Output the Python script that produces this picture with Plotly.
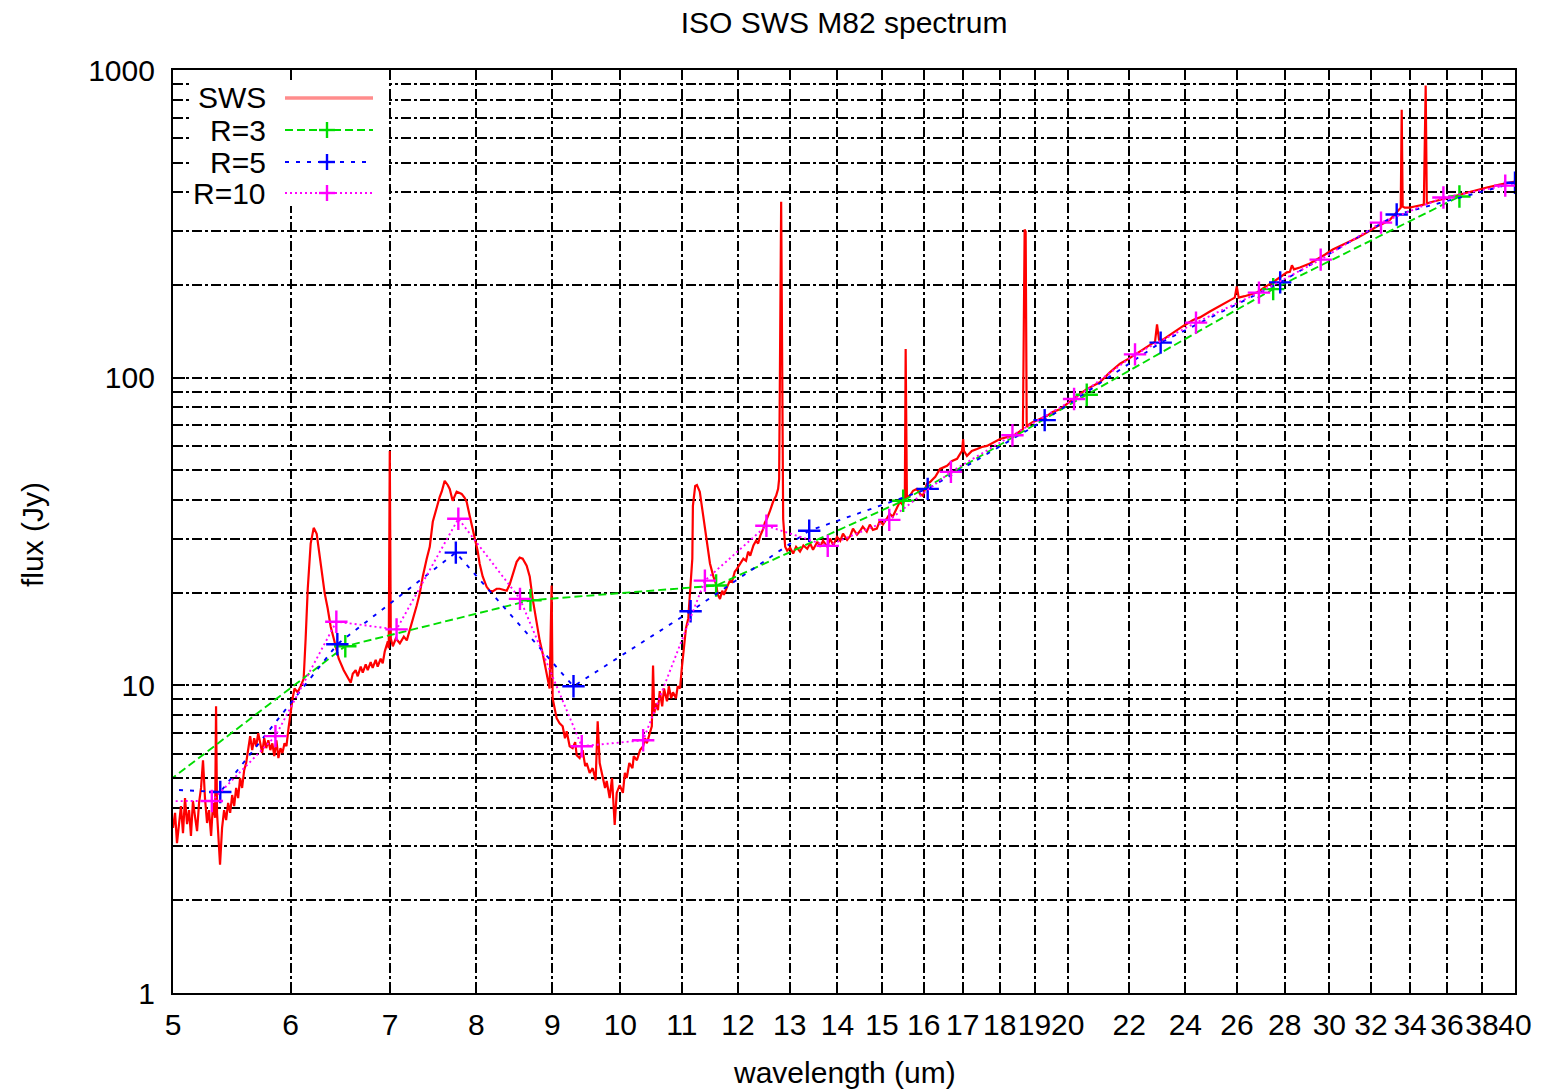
import math
import plotly.graph_objects as go

# ISO SWS spectrum of M82: wavelength (um) and flux density (Jy)
sws_wave = [
    5.000, 5.016, 5.031, 5.047, 5.062, 5.078, 5.094, 5.110, 5.126, 5.141,
    5.157, 5.173, 5.190, 5.206, 5.222, 5.238, 5.254, 5.271, 5.287, 5.304,
    5.320, 5.337, 5.345, 5.353, 5.370, 5.378, 5.395, 5.412, 5.429, 5.446,
    5.463, 5.480, 5.497, 5.514, 5.531, 5.548, 5.565, 5.583, 5.600, 5.618,
    5.635, 5.653, 5.670, 5.688, 5.706, 5.724, 5.741, 5.759, 5.777, 5.796,
    5.814, 5.832, 5.850, 5.869, 5.887, 5.906, 5.924, 5.943, 5.961, 5.980,
    5.999, 6.018, 6.036, 6.065, 6.094, 6.122, 6.141, 6.161, 6.189, 6.218,
    6.247, 6.286, 6.325, 6.354, 6.384, 6.414, 6.464, 6.514, 6.565, 6.585,
    6.606, 6.636, 6.657, 6.688, 6.709, 6.740, 6.761, 6.792, 6.813, 6.845,
    6.866, 6.898, 6.920, 6.942, 6.975, 6.985, 6.996, 7.007, 7.029, 7.062,
    7.106, 7.150, 7.183, 7.216, 7.250, 7.295, 7.329, 7.363, 7.408, 7.443,
    7.478, 7.524, 7.559, 7.582, 7.617, 7.653, 7.677, 7.712, 7.739, 7.760,
    7.796, 7.820, 7.857, 7.881, 7.918, 7.954, 7.979, 8.016, 8.041, 8.079,
    8.129, 8.167, 8.205, 8.256, 8.295, 8.334, 8.386, 8.425, 8.477, 8.516,
    8.556, 8.596, 8.649, 8.690, 8.730, 8.784, 8.825, 8.866, 8.907, 8.935,
    8.962, 8.990, 9.004, 9.032, 9.060, 9.102, 9.145, 9.178, 9.202, 9.245,
    9.288, 9.324, 9.346, 9.389, 9.433, 9.470, 9.492, 9.536, 9.580, 9.625,
    9.655, 9.685, 9.730, 9.766, 9.791, 9.836, 9.872, 9.913, 9.944, 9.990,
    10.04, 10.07, 10.10, 10.14, 10.19, 10.21, 10.26, 10.31, 10.36, 10.39,
    10.42, 10.47, 10.50, 10.52, 10.54, 10.57, 10.60, 10.63, 10.67, 10.70,
    10.75, 10.78, 10.82, 10.85, 10.90, 10.93, 10.97, 11.00, 11.04, 11.07,
    11.11, 11.14, 11.18, 11.19, 11.23, 11.26, 11.31, 11.37, 11.44, 11.49,
    11.55, 11.60, 11.63, 11.67, 11.71, 11.74, 11.80, 11.85, 11.89, 11.94,
    11.98, 12.04, 12.10, 12.15, 12.19, 12.23, 12.29, 12.34, 12.38, 12.42,
    12.48, 12.51, 12.55, 12.61, 12.67, 12.73, 12.77, 12.79, 12.83, 12.87,
    12.91, 12.95, 13.01, 13.07, 13.13, 13.21, 13.28, 13.36, 13.42, 13.48,
    13.57, 13.63, 13.69, 13.78, 13.84, 13.91, 13.99, 14.06, 14.12, 14.21,
    14.28, 14.34, 14.43, 14.50, 14.56, 14.65, 14.72, 14.79, 14.88, 14.95,
    15.02, 15.11, 15.18, 15.25, 15.30, 15.37, 15.42, 15.49, 15.54, 15.56,
    15.59, 15.66, 15.74, 15.83, 15.91, 15.98, 16.08, 16.16, 16.29, 16.41,
    16.51, 16.59, 16.72, 16.85, 16.93, 16.98, 17.01, 17.03, 17.11, 17.24,
    17.38, 17.51, 17.65, 17.81, 18.01, 18.20, 18.37, 18.51, 18.66, 18.71,
    18.74, 18.77, 18.85, 18.94, 19.15, 19.36, 19.54, 19.76, 19.97, 20.16,
    20.38, 20.60, 20.79, 21.02, 21.35, 21.69, 22.03, 22.37, 22.72, 22.90,
    22.97, 23.04, 23.18, 23.54, 23.91, 24.29, 24.55, 24.93, 25.21, 25.52,
    25.83, 25.91, 25.99, 26.07, 26.31, 26.81, 27.14, 27.48, 27.79, 28.09,
    28.22, 28.31, 28.40, 28.66, 29.11, 29.43, 29.79, 30.16, 30.58, 30.96,
    31.34, 31.79, 32.29, 32.69, 32.95, 33.20, 33.41, 33.51, 33.56, 33.61,
    33.72, 33.98, 34.24, 34.51, 34.73, 34.83, 34.89, 35.05, 35.60, 35.99,
    36.55, 37.12, 37.70, 38.29, 39.07, 40.00,
]
sws_flux = [
    3.44, 3.85, 3.07, 3.65, 4.05, 3.31, 4.30, 3.54, 3.93, 3.24,
    4.21, 3.76, 3.36, 4.15, 4.64, 5.71, 4.30, 3.57, 3.93, 3.24,
    4.15, 3.71, 8.55, 3.85, 2.96, 2.61, 3.44, 3.93, 3.65, 4.15,
    3.85, 4.40, 4.05, 4.64, 4.30, 5.00, 4.64, 5.30, 5.59, 6.34,
    6.83, 6.16, 6.73, 6.34, 6.99, 6.48, 6.02, 6.73, 6.25, 6.63,
    6.16, 6.48, 5.89, 6.63, 5.80, 6.25, 6.02, 6.48, 6.34, 7.25,
    8.30, 9.08, 9.77, 9.49, 9.93, 10.5, 14.2, 20.6, 28.9, 32.5,
    31.1, 24.5, 19.9, 17.8, 15.5, 14.2, 12.2, 11.2, 10.5, 10.2,
    10.9, 11.2, 10.7, 11.5, 11.0, 11.7, 11.2, 11.9, 11.4, 12.1,
    11.5, 12.2, 11.8, 12.9, 13.9, 13.2, 57.8, 14.2, 13.4, 14.2,
    13.7, 14.4, 14.0, 15.1, 16.2, 18.2, 19.9, 22.6, 25.8, 28.2,
    34.0, 38.3, 41.0, 42.6, 46.2, 44.8, 43.5, 39.8, 41.6, 42.6,
    42.2, 41.9, 40.7, 39.5, 35.6, 32.3, 30.0, 27.4, 24.9, 22.6,
    20.9, 20.3, 20.2, 20.6, 20.6, 20.5, 20.3, 21.3, 23.6, 25.2,
    26.0, 25.8, 24.5, 22.6, 19.1, 15.7, 14.0, 12.7, 11.5, 10.5,
    9.77, 21.1, 9.08, 8.30, 7.82, 7.53, 7.36, 6.73, 7.09, 6.34,
    6.25, 6.54, 5.93, 5.80, 6.16, 5.46, 5.59, 5.19, 5.38, 4.92,
    7.64, 5.59, 5.07, 4.64, 4.89, 4.30, 5.00, 3.52, 4.47, 4.74,
    4.47, 5.19, 5.00, 5.59, 5.38, 5.89, 5.71, 6.16, 6.34, 6.73,
    6.48, 7.09, 7.36, 11.6, 8.11, 8.74, 8.30, 9.57, 8.55, 9.77,
    8.87, 9.93, 9.08, 9.49, 9.08, 9.93, 9.77, 11.4, 13.7, 15.3,
    16.5, 20.6, 25.8, 38.3, 44.5, 44.8, 42.6, 35.6, 28.9, 24.9,
    22.6, 21.3, 19.7, 19.1, 20.3, 19.7, 20.9, 21.9, 21.7, 23.4,
    23.9, 24.9, 25.8, 25.4, 27.2, 26.4, 28.5, 29.5, 28.9, 30.6,
    32.3, 33.8, 34.8, 36.9, 39.5, 41.3, 43.5, 46.9, 373.0, 34.8,
    28.2, 27.4, 28.0, 26.8, 28.2, 27.2, 28.5, 27.8, 28.9, 27.6,
    29.3, 28.2, 29.5, 28.2, 30.0, 28.5, 30.4, 29.5, 31.1, 29.7,
    30.6, 32.3, 30.9, 31.8, 32.8, 31.6, 33.3, 32.0, 32.3, 34.3,
    33.3, 34.8, 36.1, 35.3, 36.6, 38.0, 39.5, 38.6, 40.4, 124.0,
    41.0, 41.3, 42.9, 43.5, 41.9, 41.3, 45.2, 45.8, 47.6, 50.5,
    51.3, 51.7, 53.6, 54.5, 56.5, 57.8, 63.2, 57.8, 55.7, 57.8,
    58.6, 59.5, 60.0, 61.3, 63.2, 64.1, 64.6, 66.1, 68.1, 303.0,
    298.0, 69.1, 70.7, 71.7, 73.4, 75.0, 77.3, 79.0, 82.1, 85.2,
    88.4, 91.8, 93.8, 96.6, 104.0, 111.0, 116.0, 122.0, 128.0, 131.0,
    149.0, 133.0, 133.0, 140.0, 147.0, 154.0, 157.0, 164.0, 169.0, 174.0,
    180.0, 182.0, 198.0, 182.0, 184.0, 189.0, 197.0, 204.0, 212.0, 220.0,
    221.0, 232.0, 225.0, 228.0, 235.0, 242.0, 251.0, 261.0, 269.0, 277.0,
    285.0, 296.0, 310.0, 319.0, 326.0, 339.0, 352.0, 357.0, 742.0, 360.0,
    357.0, 357.0, 360.0, 362.0, 365.0, 890.0, 368.0, 371.0, 379.0, 385.0,
    391.0, 399.0, 408.0, 415.0, 424.0, 434.0,
]

# Spectrum rebinned at resolving power R=3
r3_wave = [4.90, 6.53, 8.70, 11.6, 15.5, 20.6, 27.5, 36.7]
r3_flux = [4.65, 13.4, 18.9, 21.1, 39.8, 88.0, 194.0, 388.0]

# Spectrum rebinned at resolving power R=5
r5_wave = [4.48, 5.38, 6.45, 7.75, 9.30, 11.15, 13.4, 16.1, 19.3, 23.1, 27.8, 33.3, 40.0]
r5_flux = [4.70, 4.50, 13.6, 27.0, 9.93, 17.4, 31.8, 43.5, 72.8, 130.0, 204.0, 339.0, 430.0]

# Spectrum rebinned at resolving power R=10
r10_wave = [4.83, 5.31, 5.86, 6.44, 7.07, 7.78, 8.56, 9.42, 10.36, 11.4, 12.54, 13.79,
            15.17, 16.69, 18.36, 20.2, 22.2, 24.4, 26.9, 29.6, 32.5, 35.8, 39.4]
r10_flux = [4.20, 4.21, 6.84, 16.1, 15.2, 34.8, 19.1, 6.34, 6.63, 21.9, 33.0, 28.4,
            34.5, 49.4, 65.0, 85.2, 119.0, 151.0, 189.0, 242.0, 319.0, 385.0, 421.0]

x_ticks = [5, 6, 7, 8, 9, 10, 11, 12, 13, 14, 15, 16, 17, 18, 19, 20,
           22, 24, 26, 28, 30, 32, 34, 36, 38, 40]
y_major = [1, 10, 100, 1000]
y_minor = [m * 10 ** k for k in range(3) for m in range(2, 10)]

series_labels = ["SWS", "R=3", "R=5", "R=10"]

FONT = "Liberation Sans, Arial, Helvetica, sans-serif"
GRID_DASH = "10px,3px,3px,3px"
GRID_W = 1.9
RED = "#ff0000"
GREEN = "#00dd00"
BLUE = "#0000ff"
MAGENTA = "#ff00ff"

W, H = 1546, 1089
ML, MR, MT, MB = 173, 31, 70, 96
PW, PH = W - ML - MR, H - MT - MB


def px(x):
    return (x - ML) / PW


def py(y):
    return (H - MB - y) / PH


fig = go.Figure()

fig.add_trace(go.Scatter(
    x=sws_wave, y=sws_flux, mode="lines", name=series_labels[0],
    line=dict(color=RED, width=2.2), showlegend=False,
))
fig.add_trace(go.Scatter(
    x=r3_wave, y=r3_flux, mode="lines+markers", name=series_labels[1],
    line=dict(color=GREEN, width=1.9, dash="8px,4px"),
    marker=dict(symbol="cross-thin", size=16, line=dict(color=GREEN, width=2.4)),
    showlegend=False,
))
fig.add_trace(go.Scatter(
    x=r5_wave, y=r5_flux, mode="lines+markers", name=series_labels[2],
    line=dict(color=BLUE, width=1.9, dash="4px,7px"),
    marker=dict(symbol="cross-thin", size=16, line=dict(color=BLUE, width=2.4)),
    showlegend=False,
))
fig.add_trace(go.Scatter(
    x=r10_wave, y=r10_flux, mode="lines+markers", name=series_labels[3],
    line=dict(color=MAGENTA, width=1.9, dash="2px,3px"),
    marker=dict(symbol="cross-thin", size=16, line=dict(color=MAGENTA, width=2.4)),
    showlegend=False,
))

axis_common = dict(
    type="log",
    ticks="inside",
    tickcolor="black",
    tickwidth=1.8,
    showline=True,
    linecolor="black",
    linewidth=2.2,
    mirror="allticks",
    showgrid=True,
    gridcolor="black",
    gridwidth=GRID_W,
    griddash=GRID_DASH,
    zeroline=False,
    tickangle=0,
    tickfont=dict(family=FONT, size=30, color="black"),
)

fig.update_xaxes(
    range=[math.log10(5), math.log10(40)],
    tickmode="array",
    tickvals=x_ticks,
    ticktext=[str(v) for v in x_ticks],
    ticklen=10,
    ticklabelstandoff=4,
    **axis_common,
)
fig.update_yaxes(
    range=[0, 3],
    tickmode="array",
    tickvals=y_major,
    ticktext=[str(v) for v in y_major],
    ticklen=12,
    ticklabelstandoff=10,
    minor=dict(
        tickmode="array",
        tickvals=y_minor,
        ticks="inside",
        ticklen=6,
        tickcolor="black",
        tickwidth=1.8,
        showgrid=True,
        gridcolor="black",
        gridwidth=GRID_W,
        griddash=GRID_DASH,
    ),
    **axis_common,
)

# Key: white panel, right-aligned labels, line samples with point symbols
shapes = [dict(
    type="rect", xref="paper", yref="paper", layer="above",
    x0=px(190), x1=px(389), y0=py(206), y1=py(80),
    fillcolor="white", line=dict(width=0),
)]
key_rows = [98, 130, 162, 193]
key_styles = [
    ("rgba(255,0,0,0.45)", None, 3.5, False),
    (GREEN, "8px,4px", 1.9, True),
    (BLUE, "4px,7px", 1.9, True),
    (MAGENTA, "2px,3px", 1.9, True),
]
annotations = []
for label, row, (color, dash, width, cross) in zip(series_labels, key_rows, key_styles):
    annotations.append(dict(
        text=label, xref="paper", yref="paper", x=px(268), y=py(row),
        xanchor="right", yanchor="middle", showarrow=False,
        font=dict(family=FONT, size=30, color="black"),
    ))
    line = dict(color=color, width=width)
    if dash:
        line["dash"] = dash
    shapes.append(dict(
        type="line", xref="paper", yref="paper", layer="above",
        x0=px(285), x1=px(373), y0=py(row), y1=py(row), line=line,
    ))
    if cross:
        shapes.append(dict(
            type="line", xref="paper", yref="paper", layer="above",
            x0=px(319), x1=px(335), y0=py(row), y1=py(row),
            line=dict(color=color, width=2.4),
        ))
        shapes.append(dict(
            type="line", xref="paper", yref="paper", layer="above",
            x0=px(327), x1=px(327), y0=py(row - 8), y1=py(row + 8),
            line=dict(color=color, width=2.4),
        ))

annotations.append(dict(
    text="wavelength (um)", xref="paper", yref="paper",
    x=px(844), y=py(1072), xanchor="center", yanchor="middle",
    showarrow=False, font=dict(family=FONT, size=30, color="black"),
))
annotations.append(dict(
    text="flux (Jy)", xref="paper", yref="paper",
    x=px(32), y=py(535), xanchor="center", yanchor="middle", textangle=-90,
    showarrow=False, font=dict(family=FONT, size=30, color="black"),
))

fig.update_layout(
    width=W, height=H,
    margin=dict(l=ML, r=MR, t=MT, b=MB),
    paper_bgcolor="white",
    plot_bgcolor="white",
    showlegend=False,
    title=dict(
        text="ISO SWS M82 spectrum", x=844 / W, xref="container", xanchor="center",
        y=1 - 22 / H, yref="container", yanchor="middle",
        font=dict(family=FONT, size=30, color="black"),
    ),
    shapes=shapes,
    annotations=annotations,
)

fig.write_html("out.html")
